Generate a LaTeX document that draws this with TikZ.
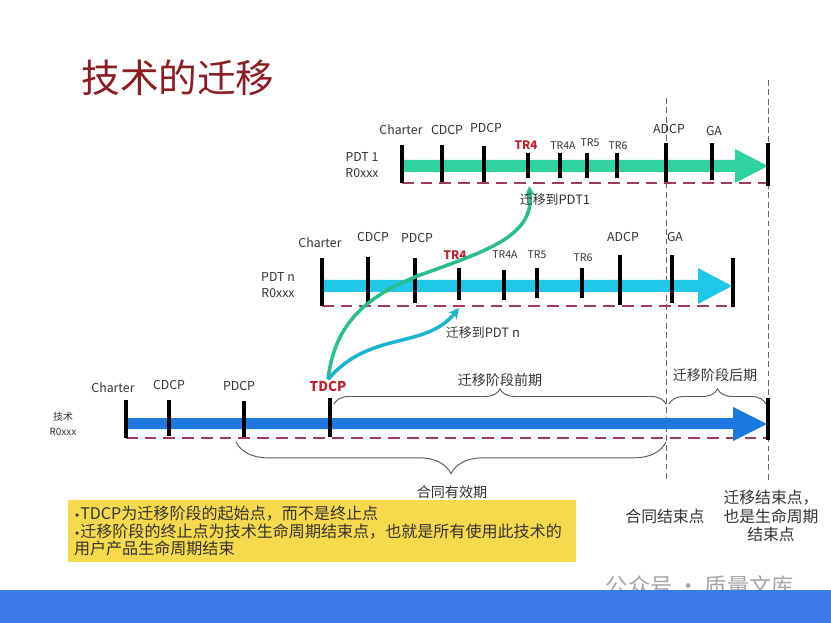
\documentclass[tikz,border=0pt]{standalone}
\usepackage{fontspec}
\setmainfont{Noto Sans CJK SC}
\newfontfamily\bulletfont{DejaVu Sans}
\usetikzlibrary{arrows.meta,positioning,decorations.pathreplacing,calc}
\definecolor{titlered}{HTML}{8B1C24}
\definecolor{ink}{HTML}{333333}
\definecolor{keyred}{HTML}{C0202F}
\definecolor{pdtone}{HTML}{2ED3A0}
\definecolor{pdtn}{HTML}{1EC8E6}
\definecolor{techblue}{HTML}{1E78E1}
\definecolor{dashcol}{HTML}{A03C5A}
\definecolor{notebg}{HTML}{F6D94C}
\definecolor{barblue}{HTML}{3C7AE8}
\newcommand{\notedot}{{\bulletfont\fontsize{9}{10}\selectfont•}}

\begin{document}
\begin{tikzpicture}[x=0.03cm,y=-0.03cm,
  lbl/.style={font=\fontsize{10.5}{12}\selectfont,text=ink,inner sep=1pt},
  trlbl/.style={font=\fontsize{9}{10}\selectfont,text=ink,inner sep=1pt},
  keylbl/.style={font=\fontsize{10}{11}\selectfont\bfseries,text=keyred,inner sep=1pt},
  rowlbl/.style={font=\fontsize{10.5}{13.5}\selectfont,text=ink,align=center,inner sep=1pt},
  stick/.style={line width=3pt,black},
  lifeline/.style={dash pattern=on 10pt off 6pt,line width=1.5pt,dashcol},
  endline/.style={dash pattern=on 5pt off 3pt,line width=0.8pt,black!60},
  phase/.style={decorate,decoration={brace,amplitude=#1},line width=0.8pt,black!65},
  phasetxt/.style={font=\fontsize{12}{14}\selectfont,text=ink,inner sep=1pt},
  migrate/.style={line width=3pt,-{Stealth[length=9pt,width=9pt]},#1},
  bigtxt/.style={font=\fontsize{13.5}{15.7}\selectfont,text=ink,align=center,inner sep=1pt}]
  \fill[white] (0,0) rectangle (831,623);
  \useasboundingbox (0,0) rectangle (831,623);

  % title
  \node[font=\fontsize{33}{36}\selectfont,text=titlered] (title) at (178,78) {技术的迁移};

  % end of contract / end of life
  \draw[endline] (666,98) -- (666,480);
  \draw[endline] (768,80) -- (768,480);

  % PDT 1
  \draw[lifeline] (402,183) -- (768,183);
  \fill[pdtone] (402,160) -- (735,160) -- (735,149) -- (768,166) -- (735,183) -- (735,172) -- (402,172) -- cycle;
  \foreach \x/\t/\b in {402/145/183,442/145/182,484/146/182,528/153/178,560/153/178,587/153/178,617/153/178,666/143/182,712/143/180,768/143/186}
    \draw[stick] (\x,\t) -- (\x,\b);
  \foreach \x/\y/\n in {401/130/Charter,447/130/CDCP,486/128/PDCP,669/129/ADCP,714/131/GA}
    \node[lbl] (top-\n) at (\x,\y) {\n};
  \foreach \x/\y/\n in {563/146/TR4A,590/143/TR5,618/146/TR6}
    \node[trlbl] (top-\n) at (\x,\y) {\n};
  \node[keylbl] (top-TR4) at (526,145) {TR4};
  \node[rowlbl] (top-row) at (362,165) {PDT 1\\R0xxx};
  \coordinate (top-TR4-end) at (529,186);

  % PDT n
  \draw[lifeline] (322,306) -- (733,306);
  \fill[pdtn] (322,280) -- (698,280) -- (698,268) -- (732,286) -- (698,304) -- (698,292) -- (322,292) -- cycle;
  \foreach \x/\t/\b in {322/258/306,368/257/303,415/258/303,459/268/300,504/270/300,537/268/298,582/268/298,620/255/305,672/255/303,733/258/307}
    \draw[stick] (\x,\t) -- (\x,\b);
  \foreach \x/\y/\n in {320/243/Charter,373/237/CDCP,417/238/PDCP,623/237/ADCP,675/237/GA}
    \node[lbl] (mid-\n) at (\x,\y) {\n};
  \foreach \x/\y/\n in {505/255/TR4A,537/255/TR5,583/258/TR6}
    \node[trlbl] (mid-\n) at (\x,\y) {\n};
  \node[keylbl] (mid-TR4) at (455,255) {TR4};
  \node[rowlbl] (mid-row) at (278,285) {PDT n\\R0xxx};
  \coordinate (mid-TR4-end) at (459,308);

  % technology
  \draw[lifeline] (126,438) -- (768,438);
  \fill[techblue] (126,418) -- (733,418) -- (733,407) -- (767,424) -- (733,441) -- (733,429) -- (126,429) -- cycle;
  \foreach \x/\t/\b in {126/400/438,169/400/436,244/401/437,330/398/437,768/398/440}
    \draw[stick] (\x,\t) -- (\x,\b);
  \foreach \x/\y/\n in {113/388/Charter,169/385/CDCP,239/386/PDCP}
    \node[lbl] (tech-\n) at (\x,\y) {\n};
  \node[font=\fontsize{11.5}{13}\selectfont\bfseries,text=keyred,inner sep=1pt] (tech-TDCP) at (328,386) {TDCP};
  \node[font=\fontsize{8.5}{12.5}\selectfont,text=ink,align=center,inner sep=1pt] (tech-row) at (63,424) {技术\\R0xxx};

  % phases
  \draw[phase=12.8pt] (334,404) -- (666,404);
  \node[phasetxt] (early) at (500,380) {迁移阶段前期};
  \draw[phase=12.8pt] (669,404) -- (766,404);
  \node[phasetxt] (late) at (715,375) {迁移阶段后期};
  \draw[phase=27pt] (666,442) -- (236,442);
  \node[phasetxt] (contract) at (452,492) {合同有效期};

  % migration
  \draw[migrate=pdtone!90!black] (tech-TDCP.north) .. controls (335,320) and (370,295) .. (420,275)
    .. controls (490,250) and (535,235) .. (top-TR4-end);
  \draw[migrate=pdtn!90!black] (tech-TDCP.north) .. controls (370,330) and (425,350) .. (mid-TR4-end);
  \node[font=\fontsize{11}{13}\selectfont,text=ink,inner sep=1pt] (to-one) at (555,200) {迁移到PDT1};
  \node[font=\fontsize{11}{13}\selectfont,text=ink,inner sep=1pt] (to-n) at (483,333) {迁移到PDT n};

  % notes
  \node[fill=notebg,anchor=north west,text width=423pt,inner xsep=5pt,inner ysep=4.5pt,
    font=\fontsize{13.7}{15.3}\selectfont,text=ink,align=left] (note) at (68,500)
    {\notedot TDCP为迁移阶段的起始点，而不是终止点\\\notedot 迁移阶段的终止点为技术生命周期结束点，也就是所有使用此技术的\\用户产品生命周期结束};
  \node[bigtxt] (contract-end) at (665,516) {合同结束点};
  \node[bigtxt] (life-end) at (771,516) {迁移结束点，\\也是生命周期\\结束点};

  % footer
  \node[font=\fontsize{19}{21}\selectfont,text=black!35] (wm) at (700,586) {公众号 · 质量文库};
  \fill[barblue] (0,590) rectangle (831,623);
\end{tikzpicture}
\end{document}
